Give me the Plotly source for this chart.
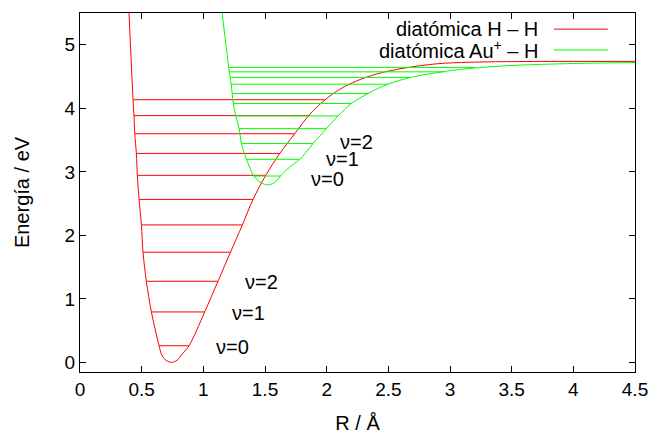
import plotly.graph_objects as go

# ---- Potential curves ----
hh_R = [0.397, 0.430, 0.438, 0.444, 0.457, 0.465, 0.479, 0.498, 0.511, 0.538, 0.579,
        0.641, 0.662, 0.683, 0.707, 0.741, 0.776, 0.801, 0.823, 0.884, 1.011, 1.119, 1.220, 1.317,
        1.403, 1.506, 1.620, 1.741, 1.863, 1.985, 2.106, 2.242, 2.404, 2.620, 2.890,
        3.160, 3.500, 4.000, 4.500]
hh_E = [5.51, 4.14, 3.88, 3.60, 3.29, 2.945, 2.566, 2.16, 1.735, 1.278, 0.795,
        0.263, 0.12, 0.06, 0.022, 0.0, 0.022, 0.06, 0.12, 0.263, 0.795, 1.278, 1.735, 2.167,
        2.566, 2.945, 3.29, 3.60, 3.907, 4.13, 4.30, 4.43, 4.54, 4.63, 4.70,
        4.725, 4.735, 4.738, 4.738]

auh_R = [1.152, 1.206, 1.225, 1.244, 1.263, 1.290, 1.309, 1.350, 1.409, 1.436, 1.468, 1.525,
         1.573, 1.598, 1.625, 1.700, 1.782, 1.890, 1.998, 2.093, 2.200, 2.336, 2.490, 2.690, 2.890,
         3.053, 3.458, 4.000, 4.500]
auh_E = [5.51, 4.643, 4.38, 4.076, 3.88, 3.68, 3.445, 3.197, 2.934, 2.878, 2.828, 2.795,
         2.826, 2.868, 2.934, 3.075, 3.197, 3.445, 3.68, 3.88, 4.076, 4.233, 4.375, 4.49, 4.56,
         4.606, 4.67, 4.705, 4.72]

# ---- Vibrational levels ----
hh_lev_E = [0.263, 0.795, 1.278, 1.735, 2.165, 2.566, 2.945, 3.29, 3.60, 3.885, 4.135]
hh_lev_R1 = [0.641, 0.579, 0.538, 0.511, 0.498, 0.479, 0.465, 0.457, 0.444, 0.438, 0.430]
hh_lev_R2 = [0.884, 1.011, 1.119, 1.220, 1.317, 1.403, 1.506, 1.620, 1.741, 1.863, 1.985]

auh_lev_E = [2.934, 3.197, 3.445, 3.68, 3.88, 4.076, 4.233, 4.38, 4.486, 4.574, 4.643]
auh_lev_R1 = [1.409, 1.350, 1.309, 1.290, 1.263, 1.244, 1.236, 1.225, 1.220, 1.214, 1.206]
auh_lev_R2 = [1.625, 1.782, 1.890, 1.998, 2.093, 2.200, 2.336, 2.495, 2.680, 2.950, 3.200]

x_ticks = [0, 0.5, 1, 1.5, 2, 2.5, 3, 3.5, 4, 4.5]
y_ticks = [0, 1, 2, 3, 4, 5]

legend_labels = ["diatómica H – H", "diatómica Au<sup>+</sup> – H"]
nu_labels = ["ν=0", "ν=1", "ν=2"]

RED = "#ff0000"
GREEN = "#00ff00"
FONT = "Liberation Sans, Arial, sans-serif"


def seg(r1, r2, e):
    xs, ys = [], []
    for a, b, c in zip(r1, r2, e):
        xs += [a, b, None]
        ys += [c, c, None]
    return xs, ys


fig = go.Figure()
hx, hy = seg(hh_lev_R1, hh_lev_R2, hh_lev_E)
ax_, ay_ = seg(auh_lev_R1, auh_lev_R2, auh_lev_E)
fig.add_trace(go.Scatter(x=hh_R, y=hh_E, mode="lines", line=dict(color=RED, width=1, shape="spline", smoothing=0.9),
                         showlegend=False, hoverinfo="skip"))
fig.add_trace(go.Scatter(x=hx, y=hy, mode="lines", line=dict(color=RED, width=1), showlegend=False, hoverinfo="skip"))
fig.add_trace(go.Scatter(x=auh_R, y=auh_E, mode="lines", line=dict(color=GREEN, width=1, shape="spline", smoothing=0.9),
                         showlegend=False, hoverinfo="skip"))
fig.add_trace(go.Scatter(x=ax_, y=ay_, mode="lines", line=dict(color=GREEN, width=1), showlegend=False, hoverinfo="skip"))

# vibrational quantum number labels
red_lab_pos = [(1.086, 0.25), (1.214, 0.78), (1.32, 1.27)]
green_lab_pos = [(1.855, 2.88), (1.976, 3.20), (2.09, 3.47)]
for txt, (x, y) in zip(nu_labels, red_lab_pos):
    fig.add_annotation(x=x, y=y, text=txt, showarrow=False, xanchor="left", yanchor="middle",
                       font=dict(family=FONT, size=20, color="black"))
for txt, (x, y) in zip(nu_labels, green_lab_pos):
    fig.add_annotation(x=x, y=y, text=txt, showarrow=False, xanchor="left", yanchor="middle",
                       font=dict(family=FONT, size=20, color="black"))

# legend (gnuplot style: text then sample line)
leg_y = [0.955, 0.897]
for lab, yy, col in zip(legend_labels, leg_y, [RED, GREEN]):
    fig.add_annotation(xref="paper", yref="paper", x=0.829, y=yy, text=lab, showarrow=False,
                       xanchor="right", yanchor="middle", font=dict(family=FONT, size=20, color="black"))
    fig.add_shape(type="line", xref="paper", yref="paper", x0=0.854, x1=0.951, y0=yy, y1=yy,
                  line=dict(color=col, width=1))

axis_common = dict(showgrid=False, zeroline=False, showline=True, linecolor="black", linewidth=1,
                   mirror="allticks", ticks="inside", ticklen=6, tickcolor="black", tickwidth=1,
                   automargin=False, tickfont=dict(family=FONT, size=19, color="black"))
fig.update_xaxes(range=[0, 4.5], tickvals=x_ticks, ticktext=[f"{v:g}" for v in x_ticks],
                 title=dict(text="R / Å", font=dict(family=FONT, size=20, color="black"), standoff=21),
                 **axis_common)
fig.update_yaxes(range=[-0.15, 5.5], tickvals=y_ticks, ticktext=[str(v) for v in y_ticks],
                 title=dict(text="Energía / eV", font=dict(family=FONT, size=20, color="black"), standoff=29),
                 **axis_common)
fig.update_layout(width=651, height=434, margin=dict(l=80, r=16, t=13, b=62),
                  plot_bgcolor="white", paper_bgcolor="white", showlegend=False)
fig.write_html("out.html")
